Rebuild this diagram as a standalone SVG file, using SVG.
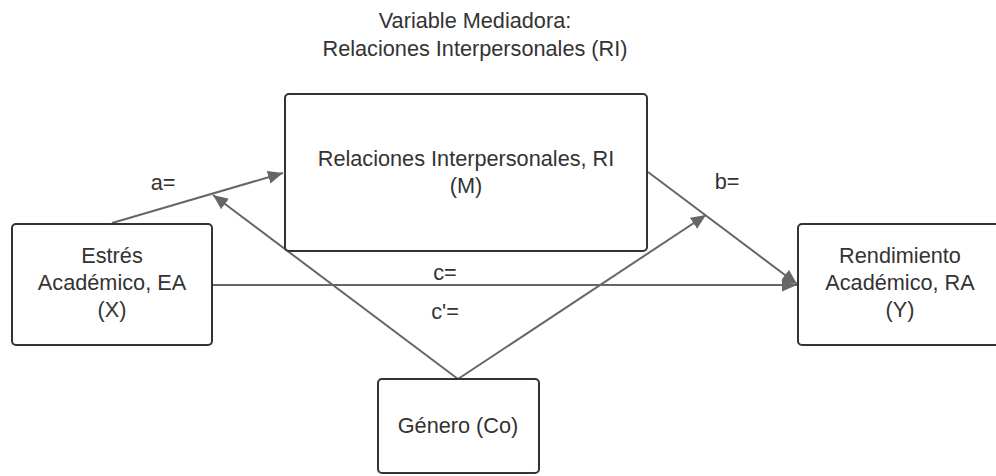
<svg xmlns="http://www.w3.org/2000/svg" width="996" height="476" viewBox="0 0 996 476">
<style>
text{font-family:"Liberation Sans",Arial,sans-serif;font-size:21.7px;fill:#333;text-anchor:middle}
.box{fill:#fff;stroke:#333;stroke-width:2}
.edge{stroke:#666;stroke-width:2;fill:none}
</style>
<defs>
<marker id="ah" markerUnits="userSpaceOnUse" markerWidth="16" markerHeight="14" refX="15" refY="6.5" orient="auto">
<path d="M0,0 L15,6.5 L0,13 z" fill="#666"/>
</marker>
</defs>
<rect width="996" height="476" fill="#fff"/>
<g id="title">
<text x="475" y="28">Variable Mediadora:</text>
<text x="475" y="56">Relaciones Interpersonales (RI)</text>
</g>
<g id="connectors">
<line class="edge" x1="112" y1="223" x2="283" y2="173" marker-end="url(#ah)"/>
<line class="edge" x1="458" y1="379" x2="213" y2="195" marker-end="url(#ah)"/>
<line class="edge" x1="458" y1="379" x2="706" y2="215" marker-end="url(#ah)"/>
<line class="edge" x1="648" y1="172" x2="797" y2="284" marker-end="url(#ah)"/>
<line class="edge" x1="212" y1="285" x2="797" y2="285" marker-end="url(#ah)"/>
<text x="163" y="190">a=</text>
<text x="727" y="189">b=</text>
<text x="445" y="280">c=</text>
<text x="445" y="319">c'=</text>
</g>
<g id="node-M">
<rect class="box" x="285" y="94" width="362" height="157" rx="4"/>
<text x="466" y="166">Relaciones Interpersonales, RI</text>
<text x="466" y="193">(M)</text>
</g>
<g id="node-X">
<rect class="box" x="12" y="224" width="200" height="121" rx="4"/>
<text x="112" y="263">Estrés</text>
<text x="112" y="290">Académico, EA</text>
<text x="112" y="317">(X)</text>
</g>
<g id="node-Y">
<rect class="box" x="798" y="224" width="210" height="121" rx="4"/>
<text x="900" y="263">Rendimiento</text>
<text x="900" y="290">Académico, RA</text>
<text x="900" y="317">(Y)</text>
</g>
<g id="node-Co">
<rect class="box" x="378" y="379" width="161" height="94" rx="4"/>
<text x="458" y="433">Género (Co)</text>
</g>
</svg>
